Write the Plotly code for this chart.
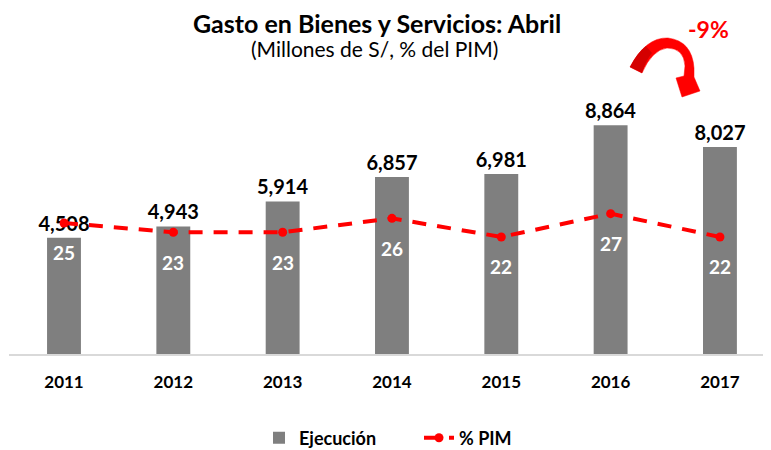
import plotly.graph_objects as go

years = ["2011", "2012", "2013", "2014", "2015", "2016", "2017"]
ejecucion = [4508, 4943, 5914, 6857, 6981, 8864, 8027]
pct_pim = [25, 23, 23, 26, 22, 27, 22]

# page body has an 8px default margin; figure is sized to fit the window
OFF = 8
W, H = 771 - OFF, 450 - OFF
L_F, R_F, T_F, B_F = 1, 763, 88, 346
FONT = "Lato"


def px(sx, sy):
    fx, fy = sx - OFF, sy - OFF
    return (fx - L_F) / (R_F - L_F), (B_F - fy) / (B_F - T_F)


def path(cmds):
    out = []
    for c in cmds:
        op, pts = c[0], c[1:]
        coords = []
        for i in range(0, len(pts), 2):
            a, b = px(pts[i], pts[i + 1])
            coords.append(f"{a:.5f},{b:.5f}")
        out.append(op + " " + " ".join(coords))
    return " ".join(out) + " Z"


fig = go.Figure()
fig.add_trace(go.Bar(
    x=years, y=ejecucion, name="Ejecución",
    marker=dict(color="#7f7f7f", line=dict(width=0)),
    width=0.31,
    texttemplate="%{y:,}", textposition="outside", constraintext="none",
    textfont=dict(family=FONT, size=20, color="#000000", weight="bold"),
    cliponaxis=False,
))
fig.add_trace(go.Scatter(
    x=years, y=pct_pim, name="% PIM", yaxis="y2", mode="lines+markers",
    line=dict(color="#ff0000", width=4, dash="14px,11px"),
    marker=dict(color="#ff0000", size=9, symbol="circle"),
    cliponaxis=False,
))

annotations = []
for i, v in enumerate(pct_pim):
    annotations.append(dict(
        x=i, y=v, xref="x", yref="y2", text=f"<b>{v}</b>", showarrow=False,
        xanchor="center", yanchor="middle", yshift=-30,
        font=dict(family=FONT, size=19, color="#ffffff"),
    ))

tx, ty = px(377, 23)
annotations.append(dict(x=tx, y=ty, xref="paper", yref="paper", showarrow=False,
                        xanchor="center", yanchor="middle",
                        text="<b>Gasto en Bienes y Servicios: Abril</b>",
                        font=dict(family=FONT, size=25, color="#000000")))
sx, sy = px(374, 49)
annotations.append(dict(x=sx, y=sy, xref="paper", yref="paper", showarrow=False,
                        xanchor="center", yanchor="middle",
                        text="(Millones de S/, % del PIM)",
                        font=dict(family=FONT, size=21, color="#000000")))
nx, ny = px(708, 29)
annotations.append(dict(x=nx, y=ny, xref="paper", yref="paper", showarrow=False,
                        xanchor="center", yanchor="middle",
                        text="<b>-9%</b>",
                        font=dict(family=FONT, size=23, color="#ff0000")))

arrow = path([
    ("M", 630, 67),
    ("Q", 646, 37, 668, 38),
    ("Q", 692, 41, 694, 68),
    ("L", 694, 77),
    ("L", 700, 91),
    ("L", 682, 97),
    ("L", 676, 78),
    ("L", 684, 76),
    ("L", 685, 66),
    ("Q", 684, 48, 667, 48),
    ("Q", 652, 50, 642, 73),
])
tail = path([
    ("M", 630, 67),
    ("Q", 637, 53, 646, 46),
    ("L", 652, 53),
    ("Q", 646, 60, 642, 73),
])
shapes = [
    dict(type="path", xref="paper", yref="paper", path=arrow,
         fillcolor="#ff0000", line=dict(color="#ff0000", width=0.5)),
    dict(type="path", xref="paper", yref="paper", path=tail,
         fillcolor="#d40000", line=dict(width=0)),
]

fig.update_layout(
    width=W, height=H,
    margin=dict(l=L_F, r=W - R_F, t=T_F, b=H - B_F, pad=0, autoexpand=False),
    paper_bgcolor="#ffffff", plot_bgcolor="#ffffff",
    showlegend=True,
    legend=dict(orientation="h", x=px(419, 0)[0], xanchor="center",
                y=px(0, 438)[1], yanchor="middle",
                font=dict(family=FONT, size=18, color="#000000", weight="bold"),
                itemwidth=30, entrywidth=115, entrywidthmode="pixels",
                traceorder="normal"),
    xaxis=dict(type="category", range=[-0.503, 6.467], showgrid=False,
               showline=True, linecolor="#d9d9d9", linewidth=1.5,
               ticks="", ticklabelstandoff=12, automargin=False,
               tickfont=dict(family=FONT, size=17, color="#000000", weight="bold")),
    yaxis=dict(range=[0, 10000], visible=False, showgrid=False),
    yaxis2=dict(range=[-3.13, 52.26], overlaying="y", visible=True,
                showgrid=False, zeroline=False, showline=False,
                showticklabels=False, ticks="", automargin=False),
    annotations=annotations,
    shapes=shapes,
)

fig.write_html("out.html")
